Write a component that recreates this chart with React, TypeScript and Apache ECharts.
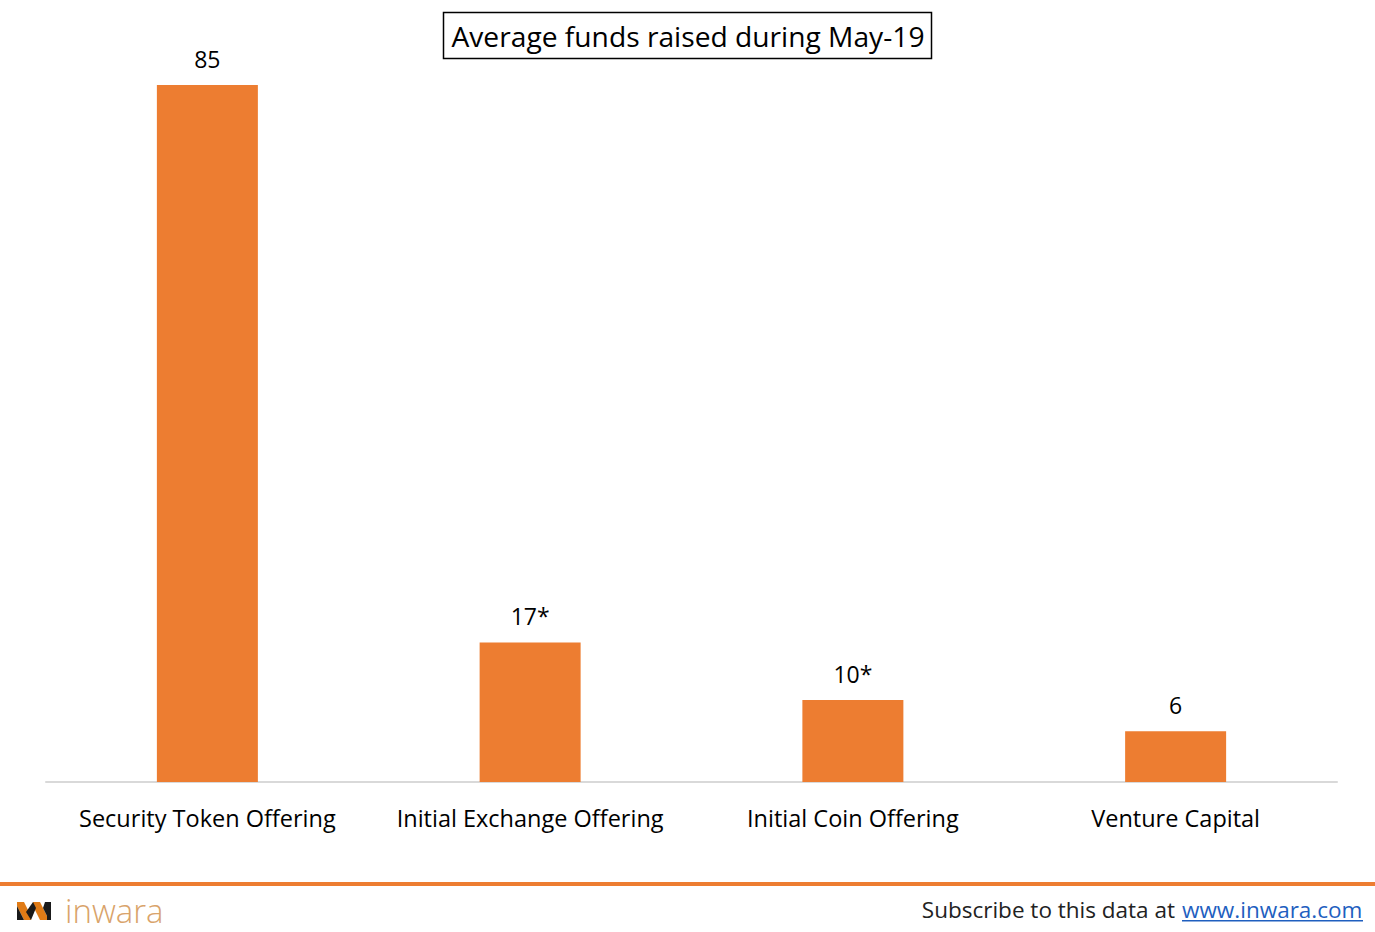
import React, { useEffect, useRef } from "react";
import * as echarts from "echarts";

const categories = ["Security Token Offering", "Initial Exchange Offering", "Initial Coin Offering", "Venture Capital"];
const values = [85, 17, 10, 6.2];
const valueLabels = ["85", "17*", "10*", "6"];
const titleText = "Average funds raised during May-19";

export default function App() {
  const ref = useRef<HTMLDivElement>(null);
  useEffect(() => {
    const chart = echarts.init(ref.current!, null, { renderer: "svg" });
    const font = "'Open Sans', sans-serif";
    chart.setOption({
      animation: false,
      backgroundColor: "#ffffff",
      grid: { left: 46, right: 38, top: 85, bottom: 150 },
      xAxis: {
        type: "category",
        data: categories,
        axisLine: { lineStyle: { color: "#d9d9d9", width: 2 } },
        axisTick: { show: false },
        axisLabel: { color: "#000", fontSize: 23.5, fontFamily: font, margin: 24, interval: 0, hideOverlap: false },
      },
      yAxis: { type: "value", min: 0, max: 85, show: false, splitLine: { show: false } },
      series: [
        {
          type: "bar",
          barWidth: 101,
          data: values,
          itemStyle: { color: "#ed7d31" },
          label: {
            show: true,
            position: "top",
            distance: 15,
            color: "#000",
            fontSize: 23,
            fontFamily: font,
            formatter: (p: any) => valueLabels[p.dataIndex],
          },
        },
      ],
      graphic: [
        {
          type: "rect",
          shape: { x: 443.5, y: 12.5, width: 488, height: 46 },
          style: { fill: "#fff", stroke: "#000", lineWidth: 1.5 },
        },
        {
          type: "text",
          x: 688,
          y: 36,
          style: { text: titleText, fill: "#000", fontSize: 28.2, fontFamily: font, align: "center", verticalAlign: "middle" },
        },
        {
          type: "rect",
          shape: { x: 0, y: 882, width: 1375, height: 4 },
          style: { fill: "#ed7d31" },
        },
        {
          type: "polygon",
          shape: { points: [[17, 902], [24, 902], [31, 916], [31, 920], [24, 920], [17, 906]] },
          style: { fill: "#e07b16" },
        },
        {
          type: "polygon",
          shape: { points: [[17, 906], [24, 920], [17, 920]] },
          style: { fill: "#1a1a1a" },
        },
        {
          type: "polygon",
          shape: { points: [[33, 902], [40, 902], [47, 916], [47, 920], [40, 920], [33, 906]] },
          style: { fill: "#e07b16" },
        },
        {
          type: "polygon",
          shape: { points: [[26, 912], [33, 902], [36, 908], [31, 920]] },
          style: { fill: "#1a1a1a" },
        },
        {
          type: "polygon",
          shape: { points: [[45, 902], [51, 902], [51, 920], [47, 920], [47, 916], [43, 908]] },
          style: { fill: "#1a1a1a" },
        },
        {
          type: "text",
          x: 65,
          y: 910,
          style: { text: "inwara", fill: "#d9a36a", fontSize: 33, fontFamily: "'Open Sans', sans-serif", fontWeight: 300, verticalAlign: "middle" },
        },
        {
          type: "text",
          x: 1175,
          y: 909,
          style: { text: "Subscribe to this data at", fill: "#222", fontSize: 22.5, fontFamily: font, align: "right", verticalAlign: "middle" },
        },
        {
          type: "text",
          x: 1182,
          y: 909,
          style: { text: "www.inwara.com", fill: "#1f5fbf", fontSize: 22.5, fontFamily: font, verticalAlign: "middle" },
        },
        {
          type: "rect",
          shape: { x: 1182, y: 920, width: 181, height: 1.5 },
          style: { fill: "#1f5fbf" },
        },
      ],
    });
    return () => chart.dispose();
  }, []);
  return <div ref={ref} style={{ position: "fixed", left: 0, top: 0, width: 1375, height: 932 }} />;
}
